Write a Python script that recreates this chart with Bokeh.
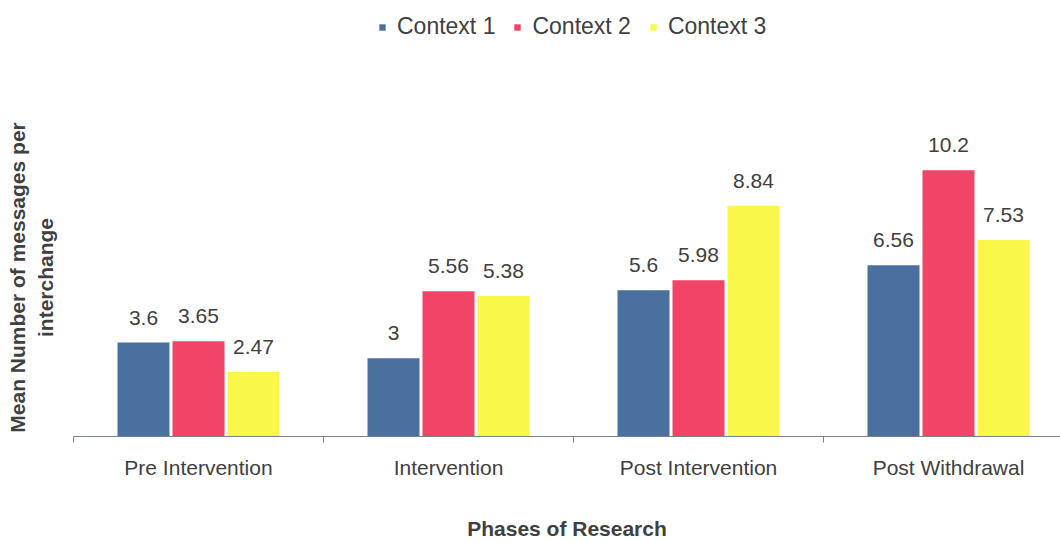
from bokeh.plotting import figure
from bokeh.layouts import column
from bokeh.models import ColumnDataSource, Range1d, FixedTicker, Legend, LegendItem, LabelSet
from bokeh.core.properties import value
from bokeh.embed import file_html
from bokeh.resources import INLINE

# Phases on the x axis and the mean number of messages per interchange for each context
phases = ["Pre Intervention", "Intervention", "Post Intervention", "Post Withdrawal"]
context_1 = [3.6, 3.0, 5.6, 6.56]
context_2 = [3.65, 5.56, 5.98, 10.2]
context_3 = [2.47, 5.38, 8.84, 7.53]
series_names = ["Context 1", "Context 2", "Context 3"]
series_colors = ["#4a70a0", "#f24466", "#faf74b"]

FONT = "Liberation Sans"
TEXT = "#404040"

# --- strip across the top that carries the legend ---
head = figure(width=1060, height=114, output_backend="svg", toolbar_location=None,
              x_range=Range1d(0, 1), y_range=Range1d(0, 1),
              x_axis_type=None, y_axis_type=None,
              min_border_left=0, min_border_right=0, min_border_top=0, min_border_bottom=0)
head.outline_line_color = None
# legend keys: zero-size bars that only supply the key colours
key_renderers = [head.vbar(x=[0.5], top=[0], width=0, fill_color=c, line_color=None)
                 for c in series_colors]
legend = Legend(items=[LegendItem(label=n, renderers=[r]) for n, r in zip(series_names, key_renderers)],
                orientation="horizontal", location=(305, 74),
                glyph_width=8, glyph_height=8, label_standoff=11, spacing=18,
                padding=0, margin=0, border_line_color=None,
                background_fill_alpha=0,
                label_text_font=FONT, label_text_font_size="23px",
                label_text_color=TEXT)
head.add_layout(legend)

# --- main bar chart ---
p = figure(width=1060, height=428, output_backend="svg", toolbar_location=None,
           x_range=Range1d(0, 3.948), y_range=Range1d(0, 12.18),
           min_border_left=73, min_border_right=0, min_border_top=4,
           min_border_bottom=106)
p.outline_line_color = None
p.xgrid.visible = False
p.ygrid.visible = False
p.background_fill_color = "white"
p.border_fill_color = "white"

centers = [i + 0.5 for i in range(len(phases))]
offsets = [-0.22, 0.0, 0.22]
bar_w = 0.208

for name, vals, color, off in zip(series_names, [context_1, context_2, context_3],
                                  series_colors, offsets):
    src = ColumnDataSource(dict(x=[c + off for c in centers], top=vals,
                                label=[f"{v:g}" for v in vals]))
    p.vbar(x="x", top="top", width=bar_w, source=src,
           fill_color=color, line_color=None)
    p.add_layout(LabelSet(x="x", y="top", text="label", source=src,
                          text_align="center", text_baseline="middle",
                          y_offset=25, text_font=value(FONT), text_font_size="21px",
                          text_color=TEXT))

# x axis: category names between boundary ticks
ax = p.xaxis[0]
ax.ticker = FixedTicker(ticks=centers, minor_ticks=[0, 1, 2, 3])
ax.major_label_overrides = {c: n for c, n in zip(centers, phases)}
ax.major_tick_line_color = None
ax.major_tick_out = 0
ax.minor_tick_out = 6
ax.minor_tick_in = 0
ax.minor_tick_line_color = "#7a828c"
ax.axis_line_color = "#7a828c"
ax.major_label_text_font = FONT
ax.major_label_text_font_size = "21px"
ax.major_label_text_color = TEXT
ax.major_label_standoff = 13
ax.axis_label = "Phases of Research"
ax.axis_label_text_font = FONT
ax.axis_label_text_font_size = "21px"
ax.axis_label_text_font_style = "bold"
ax.axis_label_text_color = TEXT
ax.axis_label_standoff = 35

# y axis: title only
ay = p.yaxis[0]
ay.ticker = FixedTicker(ticks=[])
ay.axis_line_color = None
ay.major_tick_line_color = None
ay.minor_tick_line_color = None
ay.axis_label = "Mean Number of messages per\ninterchange"
ay.axis_label_text_font = FONT
ay.axis_label_text_font_size = "21px"
ay.axis_label_text_font_style = "bold"
ay.axis_label_text_color = TEXT
ay.axis_label_standoff = 17

layout = column(head, p, spacing=0)
open("out.html", "w").write(file_html(layout, INLINE))
